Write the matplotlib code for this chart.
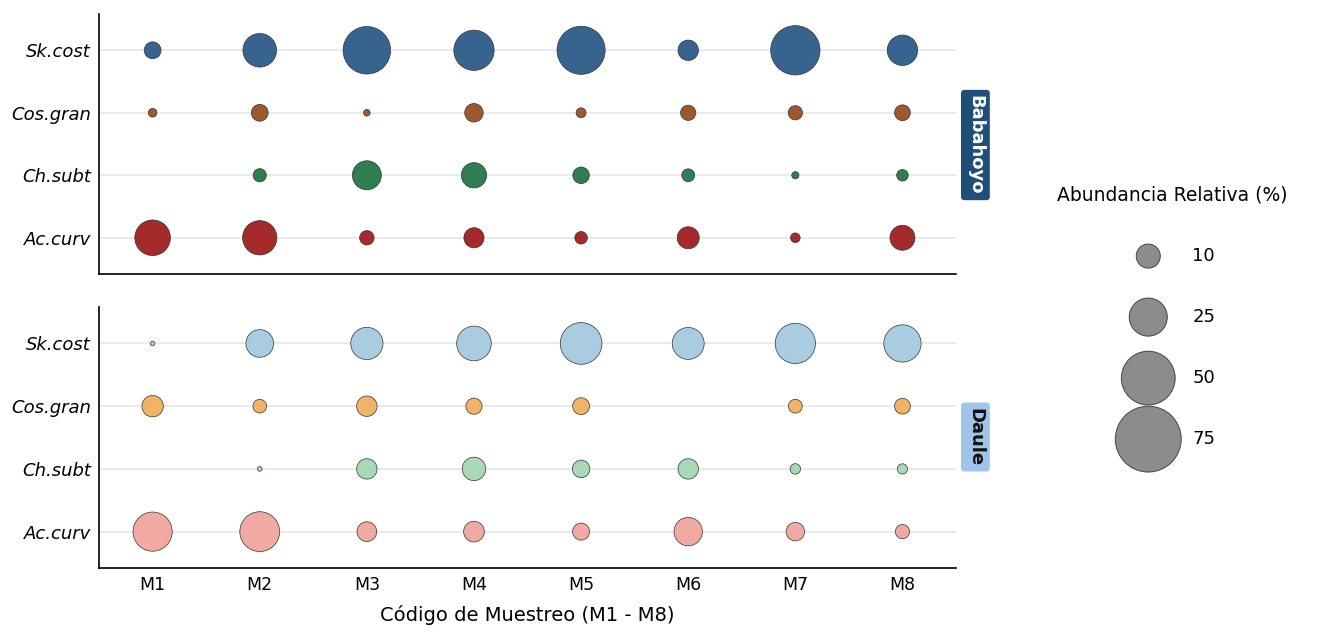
import matplotlib
matplotlib.use("Agg")
import matplotlib.pyplot as plt
import numpy as np

# datos (abundancia relativa %)
muestras = ["M1", "M2", "M3", "M4", "M5", "M6", "M7", "M8"]
especies = ["Ac.curv", "Ch.subt", "Cos.gran", "Sk.cost"]  # de abajo hacia arriba

babahoyo_sk = [4.9, 19.5, 39, 28, 40, 7.2, 42, 16]
babahoyo_cos = [1.3, 4.9, 0.75, 5.9, 1.7, 4.0, 3.5, 4.3]
babahoyo_ch = [0, 3.0, 14.5, 11, 4.7, 2.85, 0.9, 2.3]
babahoyo_ac = [21.9, 20.3, 3.6, 7.0, 2.7, 8.4, 1.6, 10.8]

daule_sk = [0.37, 13.2, 18, 20.7, 30, 17.6, 28, 24]
daule_cos = [7.9, 3.2, 7.2, 4.5, 4.9, 0, 3.3, 4.3]
daule_ch = [0, 0.37, 7.2, 9.5, 5.3, 7.2, 1.9, 1.8]
daule_ac = [26.5, 27.4, 6.7, 7.4, 5.0, 13.9, 5.9, 3.5]

leyenda_valores = [10, 25, 50, 75]

colores_babahoyo = ["#a52a2a", "#2f7d50", "#9c5a2c", "#36648f"]
colores_daule = ["#f1aaa2", "#a8d9b6", "#f0b467", "#a9cce0"]

ESCALA = 30  # puntos^2 por cada %

fig = plt.figure(figsize=(13.19, 6.38), dpi=100)
ax1 = fig.add_axes([0.0751, 0.5705, 0.6497, 0.4075])
ax2 = fig.add_axes([0.0751, 0.1097, 0.6497, 0.409])

def dibujar(ax, filas, colores):
    x = np.arange(len(muestras))
    for i, (vals, col) in enumerate(zip(filas, colores)):
        vals = np.array(vals, dtype=float)
        m = vals > 0
        ax.scatter(x[m], np.full(m.sum(), i), s=vals[m] * ESCALA, color=col,
                   edgecolor="#333333", linewidth=0.5, zorder=3)
    ax.set_xlim(-0.5, len(muestras) - 0.5)
    ax.set_ylim(-0.58, len(especies) - 1 + 0.58)
    ax.set_yticks(range(len(especies)))
    ax.set_yticklabels(especies, fontsize=13, style="italic")
    ax.set_xticks(x)
    ax.grid(axis="y", color="#e6e6e6", linewidth=1.2, zorder=0)
    ax.set_axisbelow(True)
    for lado in ["top", "right"]:
        ax.spines[lado].set_visible(False)
    ax.spines["left"].set_linewidth(1.2)
    ax.spines["bottom"].set_linewidth(1.2)
    ax.tick_params(length=0, pad=6)

dibujar(ax1, [babahoyo_ac, babahoyo_ch, babahoyo_cos, babahoyo_sk], colores_babahoyo)
dibujar(ax2, [daule_ac, daule_ch, daule_cos, daule_sk], colores_daule)

ax1.set_xticklabels([])
ax2.set_xticklabels(muestras, fontsize=12.5)
ax2.set_xlabel("Código de Muestreo (M1 - M8)", fontsize=14, labelpad=8)

# etiquetas de panel
fig.text(0.7395, 0.7727, "Babahoyo", rotation=270, ha="center", va="center",
         fontsize=13, fontweight="bold", color="white",
         bbox=dict(boxstyle="round,pad=0.3,rounding_size=0.2", fc="#1f4e79", ec="none"))
fig.text(0.7395, 0.315, "Daule", rotation=270, ha="center", va="center",
         fontsize=13, fontweight="bold", color="#111111",
         bbox=dict(boxstyle="round,pad=0.3,rounding_size=0.2", fc="#9fc5e8", ec="none"))

# leyenda de tamaños
axl = fig.add_axes([0.80, 0.264, 0.18, 0.3824])
axl.set_xlim(0, 1)
axl.set_ylim(-0.5, 3.5)
axl.axis("off")
ys = np.arange(len(leyenda_valores))[::-1]
axl.scatter(np.full(len(ys), 0.392), ys, s=np.array(leyenda_valores) * ESCALA,
            color="#8c8c8c", edgecolor="#444444", linewidth=0.7, clip_on=False)
for v, y in zip(leyenda_valores, ys):
    axl.text(0.578, y, str(v), va="center", ha="left", fontsize=13)
fig.text(0.889, 0.694, "Abundancia Relativa (%)", ha="center", va="center", fontsize=13.5)

fig.savefig("out.png", dpi=100)
